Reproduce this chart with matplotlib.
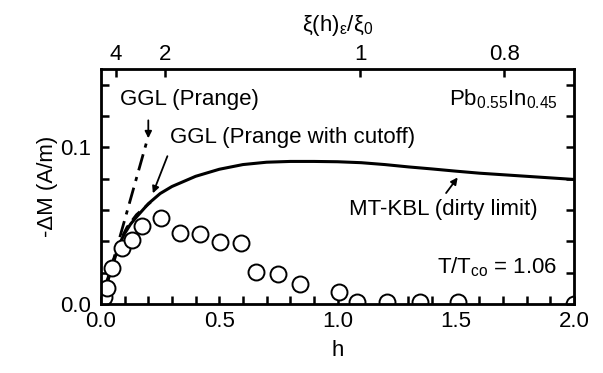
import matplotlib
matplotlib.use('Agg')
import matplotlib.pyplot as plt
from matplotlib.ticker import MultipleLocator

plt.rcParams['font.family'] = ['Liberation Sans', 'DejaVu Sans']
plt.rcParams['mathtext.fontset'] = 'custom'
plt.rcParams['mathtext.rm'] = 'Liberation Sans'
plt.rcParams['mathtext.it'] = 'Liberation Sans'
plt.rcParams['mathtext.default'] = 'regular'

# MT-KBL (dirty limit), linia ciagla
h_mt = [0, 0.01, 0.02, 0.04, 0.06, 0.08, 0.10, 0.125, 0.15, 0.2, 0.25, 0.3, 0.4, 0.5,
        0.6, 0.7, 0.8, 0.9, 1.0, 1.1, 1.2, 1.3, 1.4, 1.5, 1.6, 1.7, 1.8, 1.9, 2.0]
m_mt = [0, 0.006, 0.011, 0.020, 0.030, 0.039, 0.045, 0.051, 0.0555, 0.064, 0.0705, 0.075,
        0.0815, 0.086, 0.089, 0.0905, 0.091, 0.091, 0.0908, 0.0902, 0.089, 0.0875, 0.0862,
        0.0848, 0.0835, 0.0825, 0.0815, 0.0805, 0.0795]

# GGL (Prange)
h_pr = [0, 0.195]
m_pr = [0, 0.1045]

# GGL (Prange with cutoff)
h_cut = [0, 0.02, 0.05, 0.08, 0.11, 0.15, 0.21]
m_cut = [0, 0.012, 0.027, 0.040, 0.049, 0.057, 0.065]

# punkty pomiarowe
h_exp = [0.014, 0.024, 0.045, 0.09, 0.13, 0.172, 0.254, 0.336, 0.418, 0.505, 0.59,
         0.655, 0.75, 0.842, 1.008, 1.083, 1.21, 1.35, 1.51, 2.0]
m_exp = [0.0047, 0.010, 0.0227, 0.036, 0.0408, 0.050, 0.0546, 0.0454, 0.0444, 0.0397,
         0.0387, 0.0206, 0.0193, 0.013, 0.0078, 0.001, 0.001, 0.001, 0.001, 0.0]

# gorna os xi(h)/xi0
top_pos = [0.063, 0.270, 1.097, 1.705]
top_lab = ['4', '2', '1', '0.8']

fig = plt.figure(figsize=(6.03, 3.73), dpi=100)
ax = fig.add_axes([0.1675, 0.185, 0.7845, 0.63])

ax.plot(h_mt, m_mt, color='black', lw=2.2)
ax.plot(h_pr, m_pr, color='black', lw=2.0, linestyle=(0, (6, 2.5, 1.5, 2.5)))
ax.plot(h_cut, m_cut, color='black', lw=2.0, linestyle=(0, (4, 2.5)))
ax.plot(h_exp, m_exp, 'o', mfc='white', mec='black', ms=11.5, mew=1.4)

ax.set_xlim(0, 2.0)
ax.set_ylim(0, 0.15)
ax.xaxis.set_major_locator(MultipleLocator(0.5))
ax.xaxis.set_minor_locator(MultipleLocator(0.1))
ax.yaxis.set_major_locator(MultipleLocator(0.1))
ax.yaxis.set_minor_locator(MultipleLocator(0.02))
ax.tick_params(which='both', direction='in', width=1.8, length=6, labelsize=16,
               right=True, top=False)
ax.tick_params(axis='x', pad=5)
ax.tick_params(axis='y', pad=7)
for s in ax.spines.values():
    s.set_linewidth(2)
ax.set_xticks([0.0, 0.5, 1.0, 1.5, 2.0])
ax.set_xticklabels(['0.0', '0.5', '1.0', '1.5', '2.0'])
ax.set_yticks([0.0, 0.1])
ax.set_yticklabels(['0.0', '0.1'])

ax.set_xlabel('h', fontsize=16, labelpad=6)
ax.set_ylabel('-ΔM (A/m)', fontsize=16, labelpad=2)

ax2 = ax.twiny()
ax2.set_xlim(0, 2.0)
ax2.set_xticks(top_pos)
ax2.set_xticklabels(top_lab)
ax2.tick_params(direction='in', width=1.8, length=6, labelsize=16, pad=3)
ax2.set_xlabel(r'$\xi$(h)$_\epsilon$/$\xi_0$', fontsize=16, labelpad=9)

ax.text(0.08, 0.1305, 'GGL (Prange)', fontsize=16, va='center')
ax.text(0.29, 0.106, 'GGL (Prange with cutoff)', fontsize=16, va='center')
ax.text(1.93, 0.1305, r'Pb$_{0.55}$In$_{0.45}$', fontsize=16, va='center', ha='right')
ax.text(1.05, 0.0602, 'MT-KBL (dirty limit)', fontsize=16, va='center')
ax.text(1.93, 0.0235, r'T/T$_{co}$ = 1.06', fontsize=16, va='center', ha='right')

arr = dict(arrowstyle='-|>', color='black', lw=1.3, mutation_scale=10)
ax.annotate('', xy=(0.2, 0.104), xytext=(0.2, 0.119), arrowprops=arr)
ax.annotate('', xy=(0.215, 0.069), xytext=(0.285, 0.096), arrowprops=arr)
ax.annotate('', xy=(1.515, 0.0822), xytext=(1.452, 0.0694), arrowprops=arr)

fig.savefig('out.png', dpi=100)
